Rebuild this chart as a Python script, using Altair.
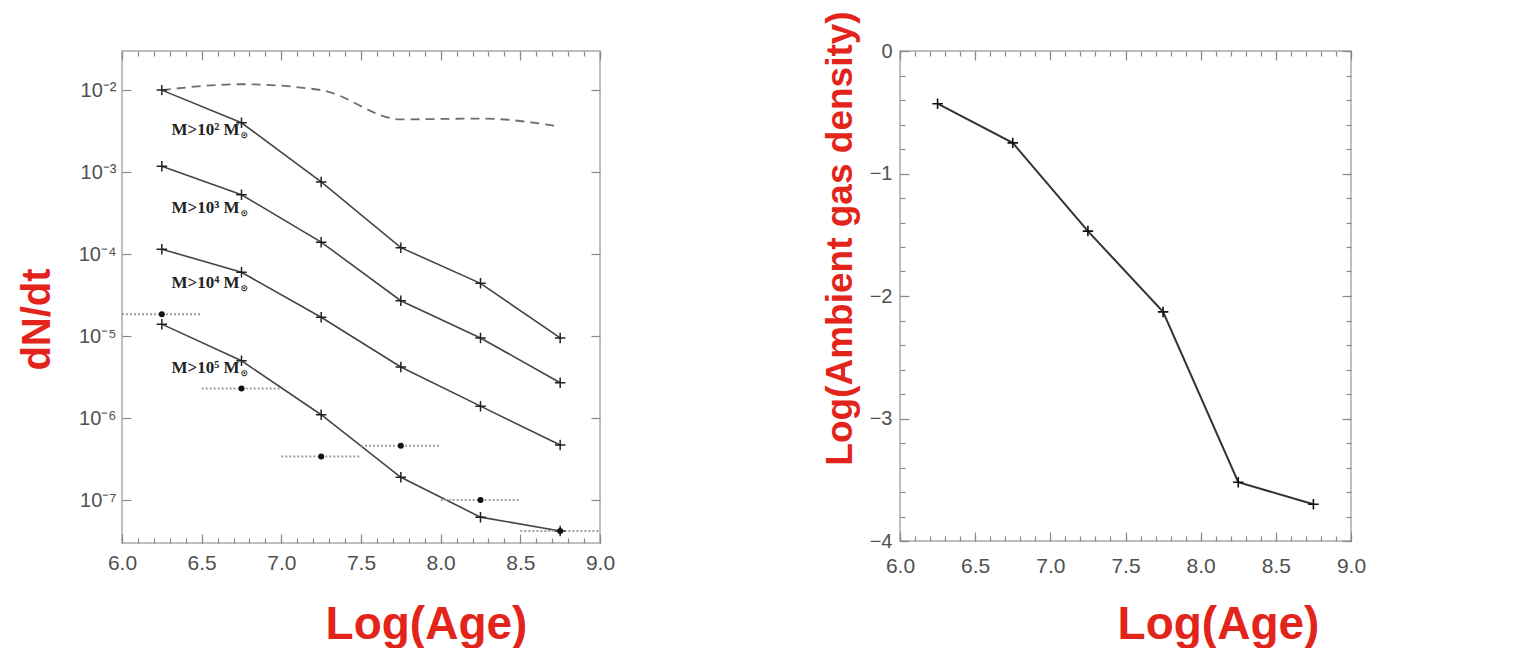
import altair as alt
import pandas as pd
import numpy as np

# ---------------- data ----------------
ages = [6.25, 6.75, 7.25, 7.75, 8.25, 8.75]
rate_m2 = [1.0e-2, 4.0e-3, 7.6e-4, 1.2e-4, 4.4e-5, 9.5e-6]
rate_m3 = [1.18e-3, 5.3e-4, 1.4e-4, 2.7e-5, 9.5e-6, 2.7e-6]
rate_m4 = [1.15e-4, 6.0e-5, 1.7e-5, 4.2e-6, 1.4e-6, 4.7e-7]
rate_m5 = [1.4e-5, 5.0e-6, 1.1e-6, 1.9e-7, 6.2e-8, 4.2e-8]
series_names = ["M>10² M⊙", "M>10³ M⊙", "M>10⁴ M⊙", "M>10⁵ M⊙"]
label_main = ["M>10² M", "M>10³ M", "M>10⁴ M", "M>10⁵ M"]
label_age = [6.31, 6.31, 6.31, 6.31]
label_rate = [3.3e-3, 3.7e-4, 4.5e-5, 4.1e-6]

dash_rate = [1.0e-2, 1.18e-2, 1.0e-2, 4.4e-3, 4.5e-3, 3.6e-3]

obs_rate = [1.85e-5, 2.3e-6, 3.4e-7, 4.6e-7, 1.0e-7, 4.2e-8]
obs_lo = [6.0, 6.5, 7.0, 7.5, 8.0, 8.5]
obs_hi = [6.5, 7.0, 7.5, 8.0, 8.5, 9.0]

gas_density = [-0.43, -0.75, -1.47, -2.13, -3.52, -3.70]

x_major = [6.0, 6.5, 7.0, 7.5, 8.0, 8.5, 9.0]
x_minor = [round(6.0 + 0.1 * i, 1) for i in range(31)]
y_decades = [1e-7, 1e-6, 1e-5, 1e-4, 1e-3, 1e-2]
gas_major = [-4, -3, -2, -1, 0]
gas_minor = [round(-4 + 0.2 * i, 1) for i in range(21)]

RED = "#e3241b"
TICK = "#8a8a8a"
LABEL = "#505050"
FONT = "Liberation Sans"

# ---------------- tables ----------------
lines_df = pd.DataFrame({
    "age": ages * 4,
    "rate": rate_m2 + rate_m3 + rate_m4 + rate_m5,
    "series": sum([[s] * 6 for s in series_names], []),
})
dash_df = pd.DataFrame({"age": ages, "rate": dash_rate})
obs_df = pd.DataFrame({"age": ages, "rate": obs_rate, "lo": obs_lo, "hi": obs_hi})
lab_df = pd.DataFrame({"age": label_age, "rate": label_rate, "text": label_main})
gas_df = pd.DataFrame({"age": ages, "gas": gas_density})

xscale = alt.Scale(domain=[6.0, 9.0], nice=False, zero=False)
yscale_l = alt.Scale(type="log", domain=[3e-8, 3e-2], nice=False)
yscale_r = alt.Scale(domain=[-4, 0], nice=False, zero=False)

PLUS = "M-1,0H1M0,-1V1"


def tick_axis(orient, values, length):
    return alt.Axis(orient=orient, offset=-length, values=values, labels=False,
                    ticks=True, tickSize=length, tickColor=TICK, tickWidth=1.2,
                    domain=False, grid=False, title=None)


def tick_layers(df, xfield, yfield, ysc, xmaj, xmin, ymaj, ymin):
    layers = []
    base = alt.Chart(df).mark_point(opacity=0)
    for orient in ["bottom", "top"]:
        for vals, L in [(xmaj, 9), (xmin, 5)]:
            layers.append(base.encode(
                x=alt.X(xfield, type="quantitative", scale=xscale, axis=tick_axis(orient, vals, L)),
                y=alt.Y(yfield, type="quantitative", scale=ysc, axis=None)))
    for orient in ["left", "right"]:
        for vals, L in [(ymaj, 9), (ymin, 5)]:
            if not vals:
                continue
            layers.append(base.encode(
                x=alt.X(xfield, type="quantitative", scale=xscale, axis=None),
                y=alt.Y(yfield, type="quantitative", scale=ysc, axis=tick_axis(orient, vals, L))))
    return layers


sup_expr = ("datum.value > 5e-3 ? '10⁻²' : datum.value > 5e-4 ? '10⁻³' : "
            "datum.value > 5e-5 ? '10⁻⁴' : datum.value > 5e-6 ? '10⁻⁵' : "
            "datum.value > 5e-7 ? '10⁻⁶' : '10⁻⁷'")

# ---------------- left panel ----------------
x_lab_l = alt.Axis(orient="bottom", values=x_major, format=".1f", labelFont=FONT,
                   labelFontSize=21, labelColor=LABEL, labelPadding=9, labelFlush=False,
                   labelOverlap=False, ticks=False, domain=False, grid=False,
                   title="Log(Age)", titleFont=FONT, titleFontSize=46, titleFontWeight="bold",
                   titleColor=RED, titleX=304, titleY=95, titleBaseline="alphabetic",
                   titleAlign="center")
y_lab_l = alt.Axis(orient="left", values=y_decades, labelExpr=sup_expr, labelFont=FONT,
                   labelFontSize=20, labelColor=LABEL, labelPadding=6, labelOverlap=False,
                   ticks=False, domain=False, grid=False,
                   title="dN/dt", titleFont=FONT, titleFontSize=40, titleFontWeight="bold",
                   titleColor=RED, titleX=-85, titleY=268, titleBaseline="middle",
                   titleAlign="center", titleAngle=270)

model_lines = alt.Chart(lines_df).mark_line(color="#444444", strokeWidth=1.6).encode(
    x=alt.X("age:Q", scale=xscale, axis=x_lab_l),
    y=alt.Y("rate:Q", scale=yscale_l, axis=y_lab_l),
    detail="series:N",
)
model_pts = alt.Chart(lines_df).mark_point(shape=PLUS, size=110, filled=False,
                                           stroke="#222222", strokeWidth=1.5, opacity=1).encode(
    x=alt.X("age:Q", scale=xscale, axis=None),
    y=alt.Y("rate:Q", scale=yscale_l, axis=None),
)
dashed = alt.Chart(dash_df).mark_line(color="#6e6e6e", strokeWidth=1.8, strokeDash=[9, 6],
                                      interpolate="monotone").encode(
    x=alt.X("age:Q", scale=xscale, axis=None),
    y=alt.Y("rate:Q", scale=yscale_l, axis=None),
)
errbars = alt.Chart(obs_df).mark_rule(color="#a0a0a0", strokeWidth=2, strokeDash=[2, 2]).encode(
    x=alt.X("lo:Q", scale=xscale, axis=None),
    x2="hi:Q",
    y=alt.Y("rate:Q", scale=yscale_l, axis=None),
)
obs_pts = alt.Chart(obs_df).mark_circle(color="#111111", size=36, opacity=1).encode(
    x=alt.X("age:Q", scale=xscale, axis=None),
    y=alt.Y("rate:Q", scale=yscale_l, axis=None),
)
labels = alt.Chart(lab_df).mark_text(align="left", baseline="middle", font="Liberation Serif",
                                     fontSize=17, fontWeight="bold", color="#222222").encode(
    x=alt.X("age:Q", scale=xscale, axis=None),
    y=alt.Y("rate:Q", scale=yscale_l, axis=None),
    text="text:N",
)
sun = alt.Chart(lab_df).mark_text(align="left", baseline="middle", font="DejaVu Sans",
                                  fontSize=9, fontWeight="bold", color="#222222",
                                  text="⊙", dx=69, dy=5).encode(
    x=alt.X("age:Q", scale=xscale, axis=None),
    y=alt.Y("rate:Q", scale=yscale_l, axis=None),
)

left = alt.layer(
    model_lines, dashed, errbars, model_pts, obs_pts, labels, sun,
    *tick_layers(lines_df, "age", "rate", yscale_l, x_major, x_minor, y_decades, []),
).resolve_axis(x="independent", y="independent").properties(width=478, height=492)

# ---------------- right panel ----------------
x_lab_r = alt.Axis(orient="bottom", values=x_major, format=".1f", labelFont=FONT,
                   labelFontSize=21, labelColor=LABEL, labelPadding=14, labelFlush=False,
                   labelOverlap=False, ticks=False, domain=False, grid=False,
                   title="Log(Age)", titleFont=FONT, titleFontSize=46, titleFontWeight="bold",
                   titleColor=RED, titleX=318, titleY=97, titleBaseline="alphabetic",
                   titleAlign="center")
y_lab_r = alt.Axis(orient="left", values=gas_major, format="d", labelFont=FONT,
                   labelFontSize=20, labelColor=LABEL, labelPadding=8, labelOverlap=False,
                   ticks=False, domain=False, grid=False,
                   title="Log(Ambient gas density)", titleFont=FONT, titleFontSize=37,
                   titleFontWeight="bold", titleColor=RED, titleX=-60, titleY=187,
                   titleBaseline="middle", titleAlign="center", titleAngle=270)

gas_line = alt.Chart(gas_df).mark_line(color="#333333", strokeWidth=2).encode(
    x=alt.X("age:Q", scale=xscale, axis=x_lab_r),
    y=alt.Y("gas:Q", scale=yscale_r, axis=y_lab_r),
)
gas_pts = alt.Chart(gas_df).mark_point(shape=PLUS, size=110, filled=False,
                                       stroke="#111111", strokeWidth=1.6, opacity=1).encode(
    x=alt.X("age:Q", scale=xscale, axis=None),
    y=alt.Y("gas:Q", scale=yscale_r, axis=None),
)

right = alt.layer(
    gas_line, gas_pts,
    *tick_layers(gas_df, "age", "gas", yscale_r, x_major, x_minor, gas_major, gas_minor),
).resolve_axis(x="independent", y="independent").properties(width=451, height=490)

chart = alt.hconcat(left, right, spacing=300, bounds="flush").properties(
    padding={"left": 16, "top": 10, "right": 0, "bottom": 0},
    background="white",
).configure_view(stroke="#aaaaaa", strokeWidth=1.5)

chart.save("out.html", embed_options={"renderer": "svg", "actions": False})
